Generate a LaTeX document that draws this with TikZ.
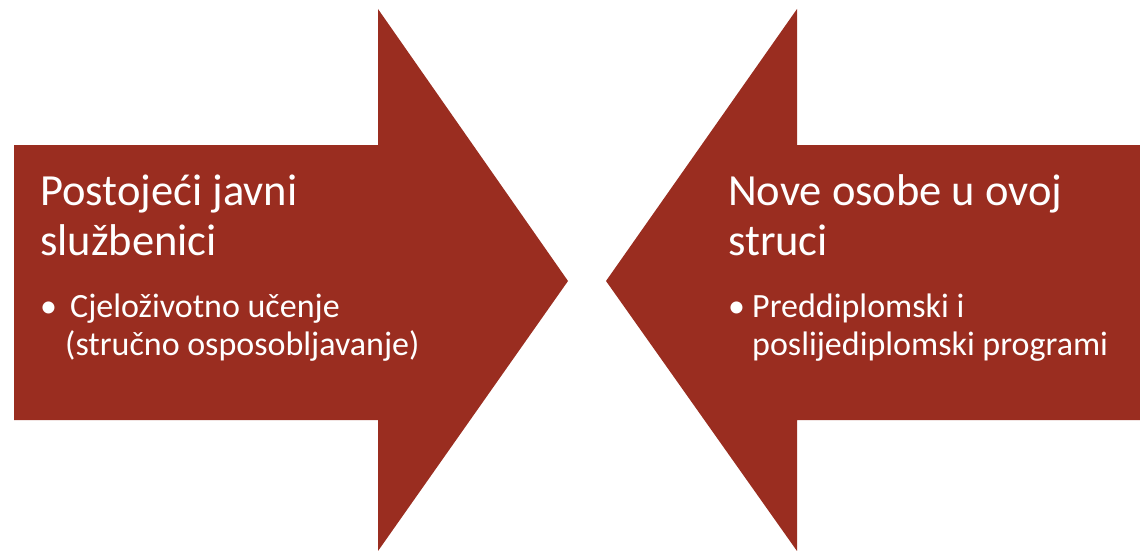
\documentclass[tikz,border=0pt]{standalone}
\usepackage{fontspec}
\setmainfont{Carlito}
\usetikzlibrary{positioning}
\definecolor{arrowred}{HTML}{9A2D20}

\begin{document}
\begin{tikzpicture}[x=1pt,y=-1pt,
	title/.style={text=white, font=\fontsize{44.5}{50}\selectfont, align=left, anchor=base west, inner sep=0pt},
	item/.style={text=white, font=\fontsize{34}{38}\selectfont, align=left, anchor=base west, inner sep=0pt}]
\useasboundingbox (0,0) rectangle (1140,551);
\fill[arrowred] (14,145) -- (378,145) -- (378,9) -- (568,281) -- (378,551) -- (378,420) -- (14,420) -- cycle;
\fill[arrowred] (1140,145) -- (797,145) -- (797,9) -- (606,281) -- (797,551) -- (797,420) -- (1140,420) -- cycle;
\node[title] (lefttitle) at (40,255) {Postoje\'ci javni\\slu\v{z}benici};
\node[item] (leftitem) at (40,355) {\makebox[30pt][l]{\textbullet}Cjelo\v{z}ivotno u\v{c}enje\\\hspace*{25pt}(stru\v{c}no osposobljavanje)};
\node[title] (righttitle) at (728,255) {Nove osobe u ovoj\\struci};
\node[item] (rightitem) at (728,355) {\makebox[24pt][l]{\textbullet}Preddiplomski i\\\hspace*{24pt}poslijediplomski programi};
\end{tikzpicture}
\end{document}
